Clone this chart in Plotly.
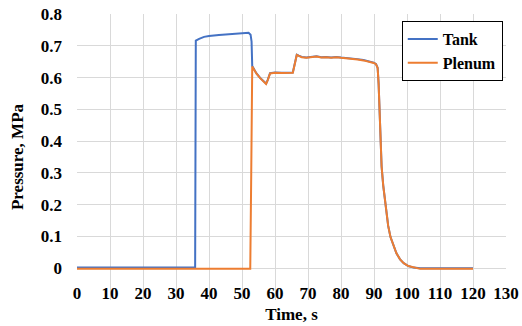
import plotly.graph_objects as go

# ---- data ----
tank_t = [0, 35.8, 36.0, 37.0, 38.5, 40.0, 43.0, 46.0, 50.0, 52.0, 52.6, 52.9, 53.1,
          53.5, 54.4, 55.5, 56.5, 57.3, 57.8, 58.5, 60, 62, 65.4, 66.0, 66.6, 67.2, 68.1,
          69.5, 71, 72.6, 74, 75.5, 77, 78.6, 80, 82.7, 85, 86.8, 88.8, 89.9, 90.6, 91.1,
          91.4, 91.6, 92.0, 92.3, 92.8, 93.3, 93.8, 94.3, 95.0, 95.9, 96.8, 97.9, 99.0,
          100.4, 102, 104, 110, 120]
tank_p = [0.002, 0.002, 0.716, 0.722, 0.728, 0.731, 0.734, 0.737, 0.739, 0.741, 0.735, 0.713, 0.636,
          0.629, 0.613, 0.599, 0.589, 0.581, 0.593, 0.614, 0.616, 0.615, 0.616, 0.641, 0.672, 0.669, 0.665,
          0.663, 0.665, 0.667, 0.664, 0.665, 0.663, 0.665, 0.663, 0.661, 0.658, 0.655, 0.651, 0.647, 0.643, 0.631,
          0.58, 0.53, 0.42, 0.321, 0.26, 0.216, 0.17, 0.133, 0.098, 0.070, 0.047, 0.028, 0.016,
          0.007, 0.002, 0.0, 0.0, 0.0]

plenum_t = [0, 52.5, 52.8, 53.1,
            53.5, 54.4, 55.5, 56.5, 57.3, 57.8, 58.5, 60, 62, 65.4, 66.0, 66.6, 67.2, 68.1,
            69.5, 71, 72.6, 74, 75.5, 77, 78.6, 80, 82.7, 85, 86.8, 88.8, 89.9, 90.6, 91.1,
            91.4, 91.6, 92.0, 92.3, 92.8, 93.3, 93.8, 94.3, 95.0, 95.9, 96.8, 97.9, 99.0,
            100.4, 102, 104, 110, 120]
plenum_p = [-0.002, -0.002, 0.30, 0.635,
            0.628, 0.612, 0.598, 0.588, 0.580, 0.592, 0.613, 0.615, 0.614, 0.615, 0.640, 0.671, 0.668, 0.664,
            0.662, 0.664, 0.666, 0.663, 0.664, 0.662, 0.664, 0.662, 0.660, 0.657, 0.654, 0.650, 0.646, 0.642, 0.630,
            0.58, 0.53, 0.42, 0.321, 0.26, 0.216, 0.17, 0.133, 0.098, 0.070, 0.047, 0.028, 0.016,
            0.007, 0.002, -0.002, -0.002, -0.002]

x_ticks = [0, 10, 20, 30, 40, 50, 60, 70, 80, 90, 100, 110, 120, 130]
y_ticks = [-0.1, 0, 0.1, 0.2, 0.3, 0.4, 0.5, 0.6, 0.7, 0.8]
y_ticktext = ["", "0", "0.1", "0.2", "0.3", "0.4", "0.5", "0.6", "0.7", "0.8"]

FONT = "Liberation Serif"
bold17 = dict(family=FONT, size=17, color="black", weight="bold")
bold16 = dict(family=FONT, size=16, color="black", weight="bold")

fig = go.Figure()
fig.add_trace(go.Scatter(x=tank_t, y=tank_p, mode="lines", name="Tank",
                         line=dict(color="#4472C4", width=2)))
fig.add_trace(go.Scatter(x=plenum_t, y=plenum_p, mode="lines", name="Plenum",
                         line=dict(color="#ED7D31", width=2)))

fig.update_layout(
    width=522, height=326,
    margin=dict(l=77, r=16, t=14, b=26, autoexpand=False),
    paper_bgcolor="white", plot_bgcolor="white",
    font=bold17,
    legend=dict(x=0.757, y=0.975, xanchor="left", yanchor="top",
                bgcolor="white", bordercolor="black", borderwidth=1,
                font=bold16, itemwidth=30, tracegroupgap=0),
    showlegend=True,
)
fig.update_xaxes(
    range=[0, 130], tickvals=x_ticks, ticktext=[str(v) for v in x_ticks],
    showgrid=True, gridcolor="#d9d9d9", gridwidth=1, zeroline=False,
    showline=False, ticks="", tickfont=bold17, automargin=False,
    anchor="free", position=0.068,
    title=dict(text="Time, s", standoff=6, font=bold17),
)
fig.update_yaxes(
    range=[-0.1, 0.8], tickvals=y_ticks, ticktext=y_ticktext,
    showgrid=True, gridcolor="#d9d9d9", gridwidth=1, zeroline=False,
    showline=False, ticks="", ticklabelstandoff=14, tickfont=bold17, automargin=False,
    title=dict(text="Pressure, MPa", standoff=12, font=bold17),
)

fig.write_html("out.html")
